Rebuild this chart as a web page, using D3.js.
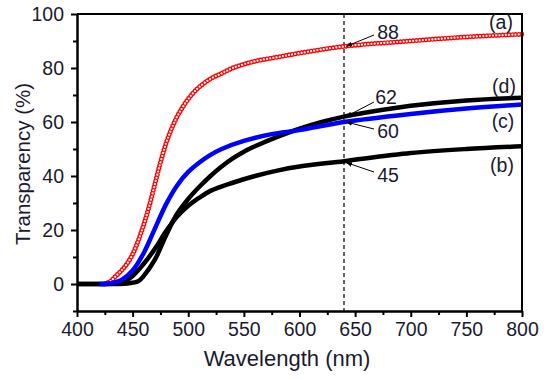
<!DOCTYPE html>
<html>
<head>
<meta charset="utf-8">
<script src="https://cdn.jsdelivr.net/npm/d3@7"></script>
<style>
  html, body { margin: 0; padding: 0; background: #fff; }
  svg { display: block; font-family: "Liberation Sans", Arial, sans-serif; }
</style>
</head>
<body>
<svg id="chart" width="550" height="380"></svg>
<script>
// ---- data ----
const wlA  = [425,430,435,440,445,450,455,460,465,470,475,480,485,490,495,500,505,510,520,530,540,560,580,600,640,700,750,800];
const valA = [0,1,3,5,7.5,11,16,22,29,37,45,52,57.5,62,65.5,68.5,71,73,76,78,80,82.5,84,85.5,88,90,91.5,92.5];

const wlB  = [400,420,440,450,460,470,480,490,500,510,520,540,560,580,600,640,700,750,800];
const valB = [0,0,0.5,3,7.5,13,19.5,25,29,32,34.5,37.5,40,42,43.5,45.5,48.5,50,51];

const wlC  = [420,430,440,450,460,470,480,490,500,510,520,530,550,575,600,640,700,750,800];
const valC = [0,0.3,1.5,5,11.5,20.5,29.5,36.5,41.5,45,47.8,50,53,55.5,57,60,63,65,66.5];

const wlD  = [400,430,445,455,460,470,480,490,500,510,520,530,540,550,560,580,600,620,640,660,700,750,800];
const valD = [0,0,0.2,1,3,9,18,26,31.5,36,40,43.5,46.5,49,51,54.5,57.5,60,62,63.5,66,68,69];

const xTicks = [400,450,500,550,600,650,700,750,800];
const xMinor = [425,475,525,575,625,675,725,775];
const yTicks = [0,20,40,60,80,100];
const yMinor = [-10,10,30,50,70,90];

const seriesLabels = ["(a)","(b)","(c)","(d)"];
const markWl = 640;
const markVals = [88,45,60,62];

// ---- layout ----
const svg = d3.select("#chart");
const L = 77, R = 522, T = 14, B = 311;
const x = d3.scaleLinear().domain([400,800]).range([L,R]);
const y = d3.scaleLinear().domain([-10,100]).range([B,T]);
const txtColor = "#1a1a30";

const line = d3.line().x(d => x(d[0])).y(d => y(d[1])).curve(d3.curveCatmullRom.alpha(0.5));
const zip = (a,b) => a.map((v,i) => [v,b[i]]);

// dashed reference line
svg.append("line")
  .attr("x1", x(markWl)).attr("x2", x(markWl))
  .attr("y1", T).attr("y2", B)
  .attr("stroke", "#000").attr("stroke-width", 1.2)
  .attr("stroke-dasharray", "4,3");

// red curve (open circles)
const pA = zip(wlA, valA);
svg.append("path").attr("d", line(pA))
  .attr("fill","none").attr("stroke","#ff0000").attr("stroke-width",5)
  .attr("stroke-linecap","round").attr("stroke-dasharray","0.001,3.2");
svg.append("path").attr("d", line(pA))
  .attr("fill","none").attr("stroke","#ffffff").attr("stroke-width",2.2)
  .attr("stroke-linecap","round").attr("stroke-dasharray","0.001,3.2");

// black (b), black (d), blue (c)
svg.append("path").attr("d", line(zip(wlB, valB)))
  .attr("fill","none").attr("stroke","#000").attr("stroke-width",4.5);
svg.append("path").attr("d", line(zip(wlD, valD)))
  .attr("fill","none").attr("stroke","#000").attr("stroke-width",4.5);
svg.append("path").attr("d", line(zip(wlC, valC)))
  .attr("fill","none").attr("stroke","#0000ff").attr("stroke-width",4.5);

// axes
const styleAxis = g => {
  g.select(".domain").attr("stroke","#000").attr("stroke-width",2);
  g.selectAll(".tick line").attr("stroke","#000").attr("stroke-width",2);
  g.selectAll(".tick text").attr("fill",txtColor).style("font-size","19.5px");
};
svg.append("g").attr("transform",`translate(0,${B})`)
  .call(d3.axisBottom(x).tickValues(xMinor).tickSize(4).tickSizeOuter(0).tickFormat(""))
  .call(styleAxis);
svg.append("g").attr("transform",`translate(0,${B})`)
  .call(d3.axisBottom(x).tickValues(xTicks).tickSize(6).tickSizeOuter(0).tickPadding(5).tickFormat(d3.format("d")))
  .call(styleAxis);
svg.append("g").attr("transform",`translate(${L},0)`)
  .call(d3.axisLeft(y).tickValues(yMinor).tickSize(4).tickSizeOuter(0).tickFormat(""))
  .call(styleAxis);
svg.append("g").attr("transform",`translate(${L},0)`)
  .call(d3.axisLeft(y).tickValues(yTicks).tickSize(6).tickSizeOuter(0).tickPadding(7).tickFormat(d3.format("d")))
  .call(styleAxis);
// top & right frame
svg.append("line").attr("x1",L).attr("x2",R).attr("y1",T).attr("y2",T).attr("stroke","#000").attr("stroke-width",2);
svg.append("line").attr("x1",R).attr("x2",R).attr("y1",T-1).attr("y2",B+1).attr("stroke","#000").attr("stroke-width",2);

// axis titles
svg.append("text").attr("x", 287).attr("y", 366).attr("text-anchor","middle")
  .attr("fill",txtColor).style("font-size","22px").text("Wavelength (nm)");
svg.append("text").attr("transform","translate(30,164) rotate(-90)").attr("text-anchor","middle")
  .attr("fill",txtColor).style("font-size","20.5px").text("Transparency (%)");

// series labels
const labelPos = [[501,29],[502,172],[503,128],[504,93]];
seriesLabels.forEach((s,i) => {
  svg.append("text").attr("x",labelPos[i][0]).attr("y",labelPos[i][1]).attr("text-anchor","middle")
    .attr("fill",txtColor).style("font-size","19.5px").text(s);
});

// value annotations with arrows
svg.append("defs").append("marker").attr("id","arr")
  .attr("viewBox","0 0 10 10").attr("refX",10).attr("refY",5)
  .attr("markerWidth",6).attr("markerHeight",6).attr("orient","auto-start-reverse")
  .append("path").attr("d","M0,1 L10,5 L0,9 Z").attr("fill","#000");
const annoText = [[388,39],[388,182],[388,138],[386,104]];
const annoFrom = [[374,35],[374,172],[374,129],[374,102]];
markVals.forEach((v,i) => {
  svg.append("line")
    .attr("x1",annoFrom[i][0]).attr("y1",annoFrom[i][1])
    .attr("x2",x(markWl)+2).attr("y2",y(v))
    .attr("stroke","#000").attr("stroke-width",1)
    .attr("marker-end","url(#arr)");
  svg.append("text").attr("x",annoText[i][0]).attr("y",annoText[i][1]).attr("text-anchor","middle")
    .attr("fill",txtColor).style("font-size","19.5px").text(v);
});
</script>
</body>
</html>
